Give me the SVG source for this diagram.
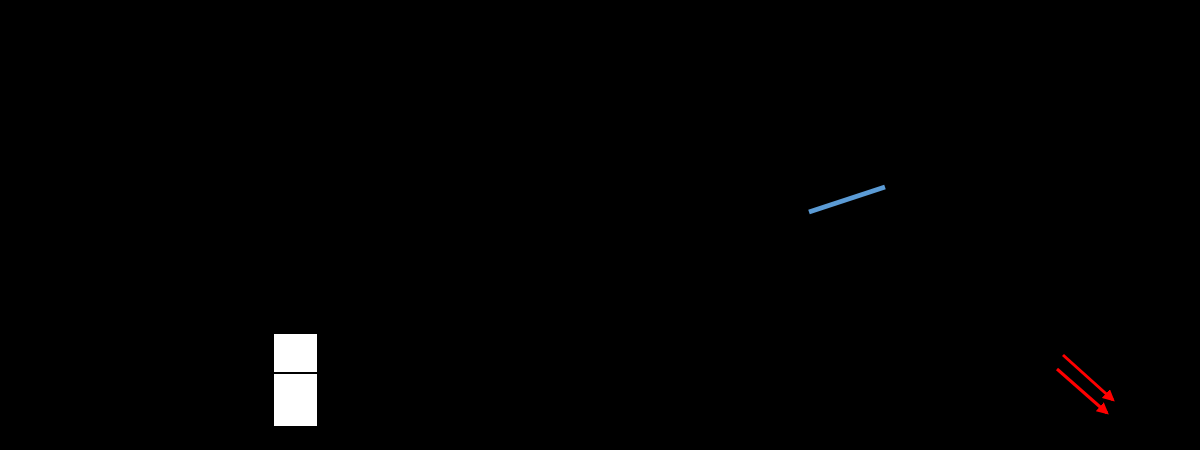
<svg xmlns="http://www.w3.org/2000/svg" width="1200" height="450" viewBox="0 0 1200 450">
<defs>
<style>
.red{stroke:#FF0000;stroke-width:3;fill:none;marker-end:url(#ah)}
</style>
<marker id="ah" viewBox="0 0 10 10" refX="8" refY="5" markerWidth="4" markerHeight="4" orient="auto" markerUnits="strokeWidth">
<path d="M0,0 L10,5 L0,10 z" fill="#FF0000"/>
</marker>
</defs>
<rect x="0" y="0" width="1200" height="450" fill="#000000"/>
<g id="box">
<rect x="274" y="334" width="43" height="92" fill="#FFFFFF"/>
<line x1="273" y1="373" x2="318" y2="373" stroke="#000000" stroke-width="2"/>
</g>
<g id="connectors">
<line x1="809" y1="212" x2="885" y2="187" stroke="#5B9BD5" stroke-width="5"/>
<line class="red" x1="1063" y1="355" x2="1113" y2="400"/>
<line class="red" x1="1057" y1="369" x2="1107" y2="413"/>
</g>
</svg>
